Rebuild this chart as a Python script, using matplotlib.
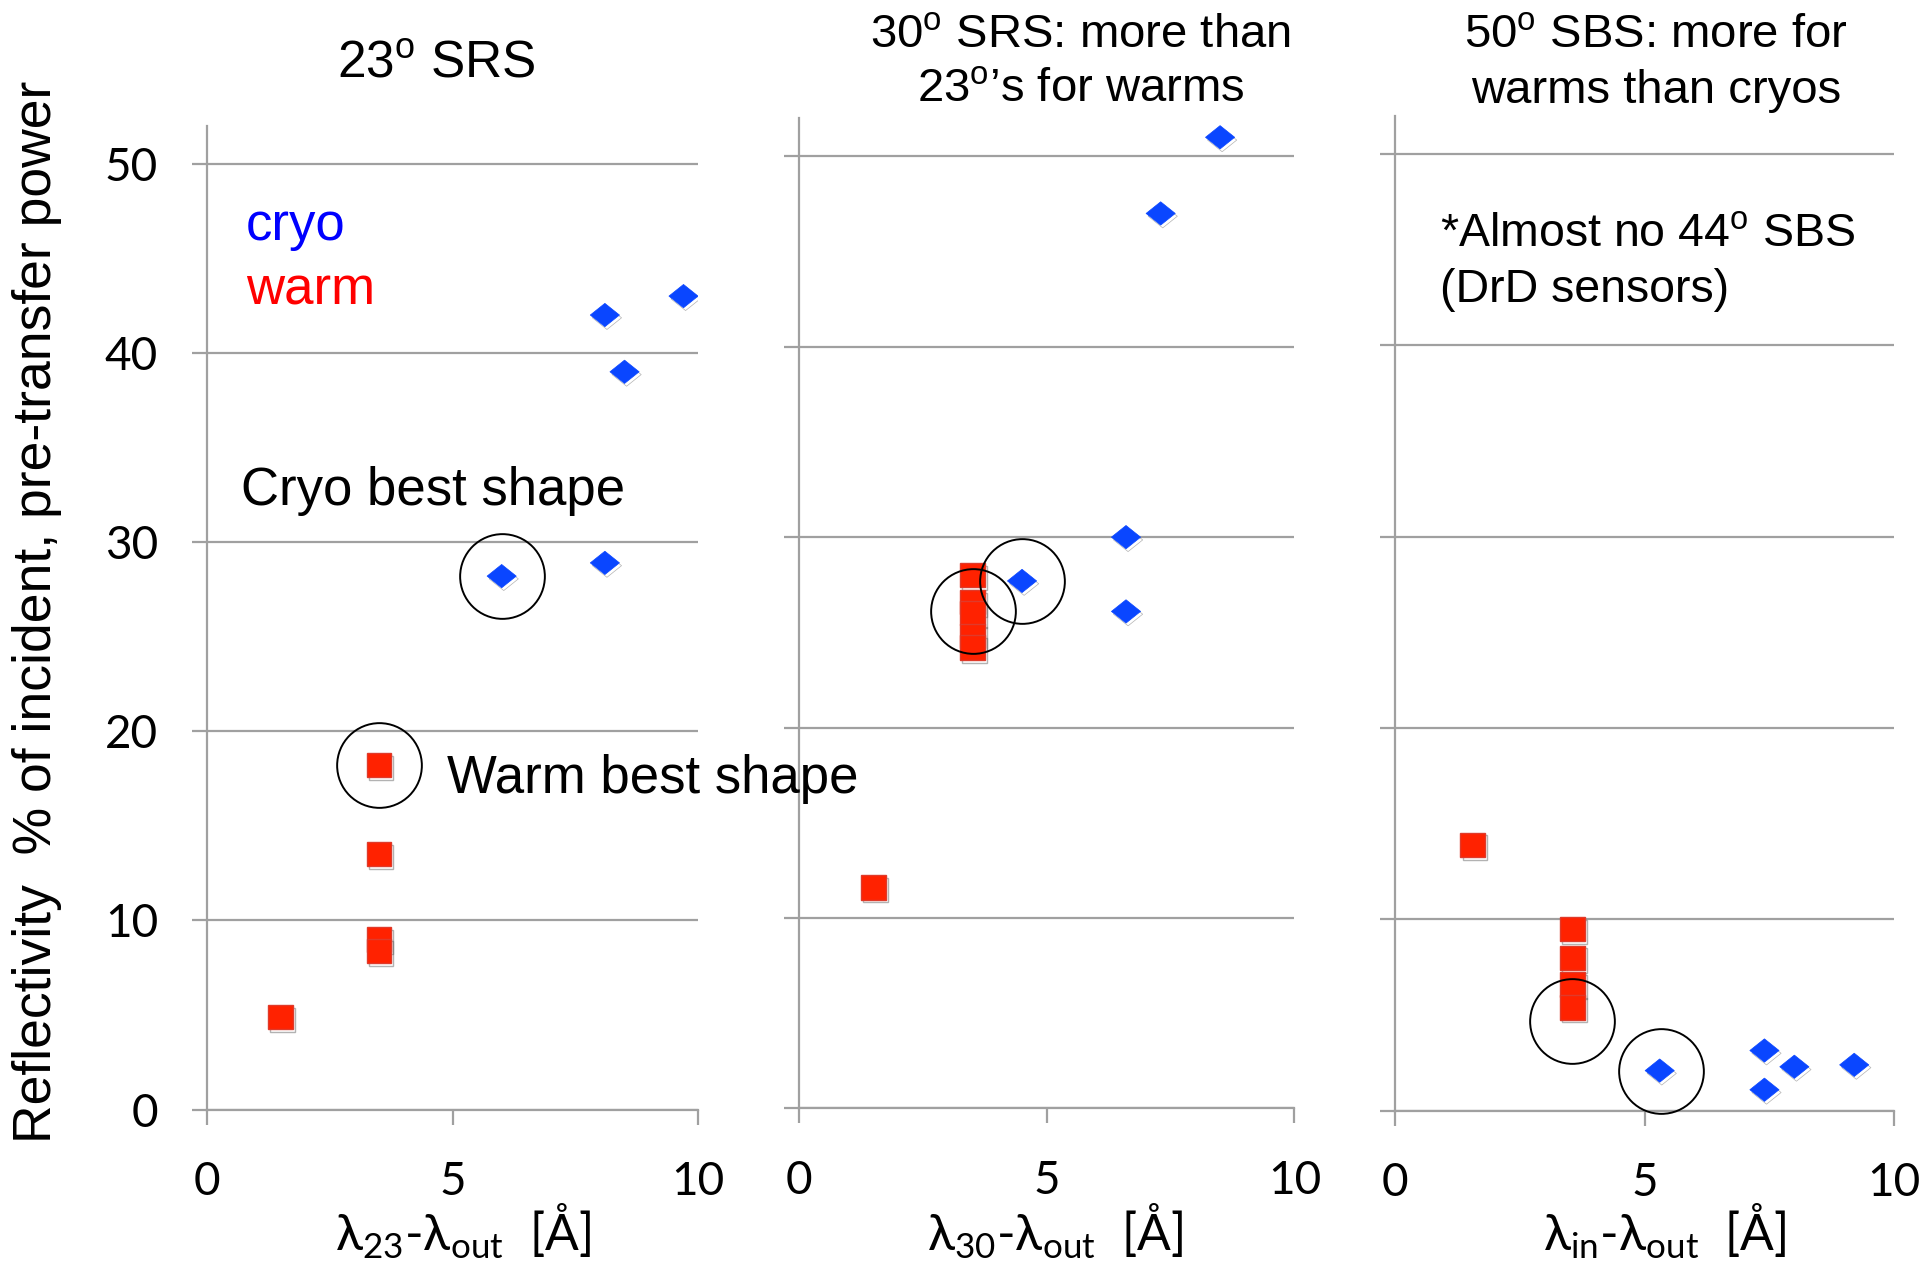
import matplotlib
matplotlib.use("Agg")
import matplotlib.pyplot as plt
import matplotlib.patheffects as pe
from matplotlib.path import Path

# ---- data ----
# 23 deg SRS
srs23_cryo_x = [8.1, 9.7, 8.5, 6.0, 8.1]
srs23_cryo_y = [42.0, 43.0, 39.0, 28.2, 28.9]
srs23_warm_x = [3.5, 3.5, 3.5, 3.5, 1.5]
srs23_warm_y = [18.2, 13.5, 9.0, 8.4, 4.9]
srs23_circled_x = [6.0, 3.5]
srs23_circled_y = [28.2, 18.2]

# 30 deg SRS
srs30_cryo_x = [8.5, 7.3, 6.6, 6.6, 4.5]
srs30_cryo_y = [51.0, 47.0, 30.0, 26.1, 27.7]
srs30_warm_x = [1.5, 3.5, 3.5, 3.5, 3.5, 3.5]
srs30_warm_y = [11.6, 28.0, 26.6, 26.0, 24.8, 24.2]
srs30_circled_x = [3.5, 4.5]
srs30_circled_y = [26.1, 27.7]

# 50 deg SBS
sbs50_cryo_x = [5.3, 7.4, 7.4, 8.0, 9.2]
sbs50_cryo_y = [2.1, 3.15, 1.1, 2.3, 2.4]
sbs50_warm_x = [1.55, 3.55, 3.55, 3.55, 3.55]
sbs50_warm_y = [13.9, 9.5, 8.0, 6.6, 5.4]
sbs50_circled_x = [3.55, 5.33]
sbs50_circled_y = [4.7, 2.1]

y_ticks = [0, 10, 20, 30, 40, 50]
x_ticks = [0, 5, 10]

BLUE = "#0a46ff"
RED = "#ff2200"
GRID = "#a0a0a0"
TXT = "Liberation Sans"
NUM = ["Lato", "DejaVu Sans"]

plt.rcParams["mathtext.fontset"] = "custom"
plt.rcParams["mathtext.rm"] = "Lato"

fig = plt.figure(figsize=(19.31, 12.66), dpi=100)

boxes = [
    [0.1071, 0.1235, 0.2545, 0.7771],
    [0.4139, 0.1245, 0.2564, 0.7821],
    [0.7226, 0.1226, 0.2583, 0.7861],
]

diamond = Path([(-1, 0), (0, 0.8), (1, 0), (0, -0.8), (-1, 0)],
               [Path.MOVETO, Path.LINETO, Path.LINETO, Path.LINETO, Path.CLOSEPOLY])
shadow = [pe.SimpleLineShadow(offset=(1.5, -2), shadow_color="#555555", alpha=0.45), pe.Normal()]

panels = [
    (srs23_cryo_x, srs23_cryo_y, srs23_warm_x, srs23_warm_y, srs23_circled_x, srs23_circled_y),
    (srs30_cryo_x, srs30_cryo_y, srs30_warm_x, srs30_warm_y, srs30_circled_x, srs30_circled_y),
    (sbs50_cryo_x, sbs50_cryo_y, sbs50_warm_x, sbs50_warm_y, sbs50_circled_x, sbs50_circled_y),
]

axes = []
for i, (cx, cy, wx, wy, ox, oy) in enumerate(panels):
    ax = fig.add_axes(boxes[i])
    ax.patch.set_visible(False)
    ax.set_xlim(0, 10)
    ax.set_ylim(0, 52)
    ax.set_xticks(x_ticks)
    ax.set_yticks(y_ticks)
    for s in ["top", "right"]:
        ax.spines[s].set_visible(False)
    for s in ["left", "bottom"]:
        ax.spines[s].set_color(GRID)
        ax.spines[s].set_linewidth(1.6)
    ax.grid(axis="y", color=GRID, lw=1.6)
    ax.set_axisbelow(True)
    ax.tick_params(axis="both", colors=GRID, width=1.6, length=11,
                   labelcolor="black", labelsize=33)
    ax.tick_params(axis="x", pad=26)
    ax.tick_params(axis="y", pad=24)
    for lab in ax.get_xticklabels() + ax.get_yticklabels():
        lab.set_family(NUM)
    if i > 0:
        ax.set_yticklabels([])

    ax.plot(wx, wy, ls="none", marker="s", ms=17.5, mfc=RED, mec="#e03a2a", mew=1,
            path_effects=shadow, zorder=3)
    ax.plot(cx, cy, ls="none", marker=diamond, ms=21, mfc=BLUE, mec=BLUE, mew=0.5,
            path_effects=shadow, zorder=3)
    ax.plot(ox, oy, ls="none", marker="o", ms=61, mfc="none", mec="black", mew=1.4,
            zorder=4, clip_on=False)
    axes.append(ax)

ax1, ax2, ax3 = axes

# in-plot notes
ax1.text(0.8, 46.7, "cryo", color="#0000ff", fontsize=38, family=TXT, va="center")
ax1.text(0.8, 43.3, "warm", color="#ff0000", fontsize=38, family=TXT, va="center")
ax1.text(0.7, 32.7, "Cryo best shape", fontsize=38, family=TXT, va="center")
fig.text(447 / 1931, 1 - 779 / 1266, "Warm best shape", fontsize=38, family=TXT,
         va="center")
ax3.text(0.9, 45.8, r"*Almost no 44$^{\mathregular{o}}$ SBS", fontsize=33.5, family=TXT, va="center")
ax3.text(0.9, 42.9, "(DrD sensors)", fontsize=33.5, family=TXT, va="center")

# titles
fig.text(436 / 1931, 1 - 64 / 1266, r"23$^{\mathregular{o}}$ SRS", fontsize=37,
         family=TXT, ha="center", va="center")
fig.text(1080 / 1931, 1 - 36 / 1266, r"30$^{\mathregular{o}}$ SRS: more than", fontsize=34,
         family=TXT, ha="center", va="center")
fig.text(1081 / 1931, 1 - 90 / 1266, r"23$^{\mathregular{o}}$’s for warms", fontsize=34,
         family=TXT, ha="center", va="center")
fig.text(1656 / 1931, 1 - 36 / 1266, r"50$^{\mathregular{o}}$ SBS: more for", fontsize=34,
         family=TXT, ha="center", va="center")
fig.text(1656 / 1931, 1 - 91 / 1266, "warms than cryos", fontsize=34,
         family=TXT, ha="center", va="center")

# axis labels
fig.text(37 / 1931, 1 - 612 / 1266, "Reflectivity  % of incident, pre-transfer power",
         fontsize=38.5, family=TXT, rotation=90, ha="center", va="center")
xlabels = [r"λ$_{\mathregular{23}}$-λ$_{\mathregular{out}}$  [Å]",
           r"λ$_{\mathregular{30}}$-λ$_{\mathregular{out}}$  [Å]",
           r"λ$_{\mathregular{in}}$-λ$_{\mathregular{out}}$  [Å]"]
xlabel_x = [463, 1055, 1665]
for lx, lab in zip(xlabel_x, xlabels):
    fig.text(lx / 1931, 1 - 1231 / 1266, lab, fontsize=36, family=NUM,
             ha="center", va="center")

fig.savefig("out.png", dpi=100)
